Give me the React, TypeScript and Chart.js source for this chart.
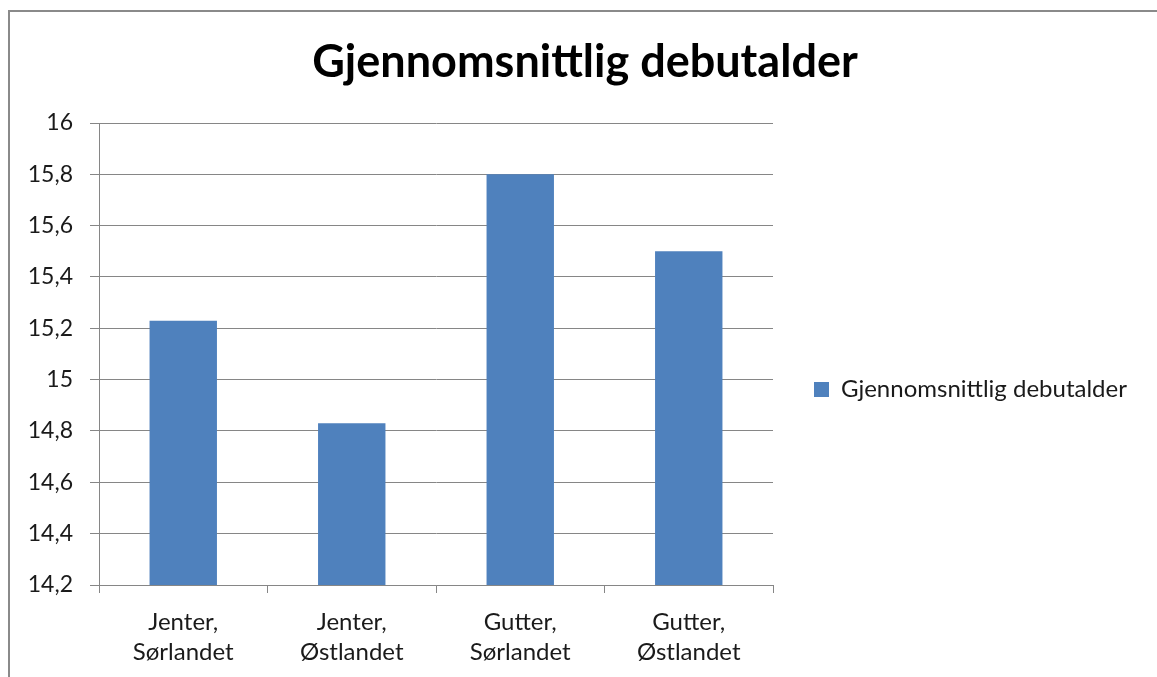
import React, { useEffect, useRef } from 'react';
import { Chart, registerables } from 'chart.js';

Chart.register(...registerables);

const chartTitle = 'Gjennomsnittlig debutalder';
const seriesName = 'Gjennomsnittlig debutalder';
const categories: string[][] = [
  ['Jenter,', 'Sørlandet'],
  ['Jenter,', 'Østlandet'],
  ['Gutter,', 'Sørlandet'],
  ['Gutter,', 'Østlandet'],
];
const values: number[] = [15.23, 14.83, 15.8, 15.5];
const yMin = 14.2;
const yMax = 16;
const yStep = 0.2;

const FONT = 'Lato, "Noto Sans", sans-serif';
const BAR_COLOR = '#4F81BD';
const GRID_COLOR = '#868686';
const TEXT_COLOR = '#1a1a1a';
const LEGEND_WIDTH = 377;

const formatTick = (v: number) => Number(v.toFixed(1)).toString().replace('.', ',');

const legendWidthPlugin = {
  id: 'legendWidth',
  beforeLayout(chart: any) {
    const leg = chart.legend;
    if (leg && !leg.__patched) {
      const orig = leg.fit.bind(leg);
      leg.fit = () => {
        orig();
        leg.width = LEGEND_WIDTH;
      };
      leg.__patched = true;
    }
  },
};

export default function App() {
  const canvasRef = useRef<HTMLCanvasElement | null>(null);

  useEffect(() => {
    const canvas = canvasRef.current;
    if (!canvas) return;
    const chart = new Chart(canvas, {
      type: 'bar',
      data: {
        labels: categories,
        datasets: [
          {
            label: seriesName,
            data: values,
            backgroundColor: BAR_COLOR,
            borderWidth: 0,
            categoryPercentage: 1,
            barPercentage: 0.4,
          },
        ],
      },
      plugins: [legendWidthPlugin],
      options: {
        responsive: false,
        animation: false,
        layout: { padding: { left: 20, right: 7, top: 0, bottom: 0 } },
        plugins: {
          tooltip: { enabled: false },
          title: {
            display: true,
            text: chartTitle,
            color: '#000',
            font: { family: FONT, size: 45, weight: 'bold', lineHeight: 1.2 },
            padding: { top: 35, bottom: 34 },
          },
          legend: {
            display: true,
            position: 'right',
            title: {
              display: true,
              text: ' ',
              font: { size: 10, lineHeight: 1.2 },
              padding: { top: 90, bottom: 0 },
            },
            labels: {
              color: TEXT_COLOR,
              font: { family: FONT, size: 24 },
              boxWidth: 15,
              boxHeight: 15,
              padding: 41,
            },
          },
        },
        scales: {
          x: {
            grid: {
              display: true,
              drawOnChartArea: false,
              drawTicks: true,
              tickLength: 8,
              color: GRID_COLOR,
              offset: true,
            },
            border: { display: true, color: GRID_COLOR },
            ticks: {
              color: TEXT_COLOR,
              font: { family: FONT, size: 24, lineHeight: 1.25 },
              padding: 14,
              maxRotation: 0,
              autoSkip: false,
            },
            afterFit: (scale: any) => {
              scale.height = 92;
            },
          },
          y: {
            min: yMin,
            max: yMax,
            grid: {
              color: GRID_COLOR,
              tickLength: 9,
              drawTicks: true,
            },
            border: { display: true, color: GRID_COLOR },
            ticks: {
              stepSize: yStep,
              color: TEXT_COLOR,
              font: { family: FONT, size: 23 },
              padding: 17,
              callback: (v: any) => formatTick(Number(v)),
            },
            afterFit: (scale: any) => {
              scale.width = 79;
            },
          },
        },
      },
    });
    return () => chart.destroy();
  }, []);

  return (
    <div
      style={{
        position: 'fixed',
        left: 0,
        top: 0,
        width: 1157,
        height: 677,
        overflow: 'hidden',
        background: '#fff',
      }}
    >
      <div
        style={{
          position: 'absolute',
          left: 8,
          top: 10,
          width: 1300,
          height: 800,
          border: '2px solid #8a8a8a',
          boxSizing: 'border-box',
        }}
      />
      <canvas
        ref={canvasRef}
        width={1157}
        height={677}
        style={{ position: 'absolute', left: 0, top: 0, width: 1157, height: 677 }}
      />
    </div>
  );
}
